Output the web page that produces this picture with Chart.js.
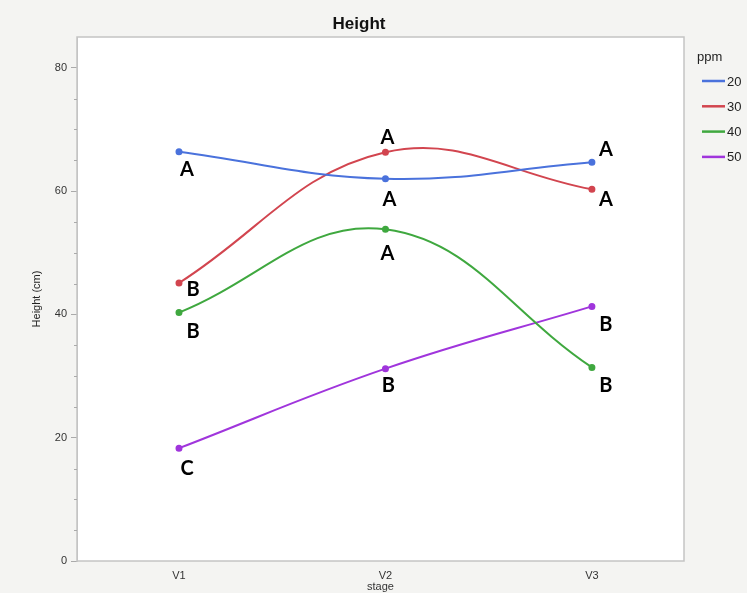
<!DOCTYPE html>
<html>
<head>
<meta charset="utf-8">
<script src="https://cdn.jsdelivr.net/npm/chart.js@4"></script>
<style>
  html, body { margin: 0; padding: 0; background: #f4f4f2; }
  #wrap { width: 747px; height: 593px; }
</style>
</head>
<body>
<div id="wrap"><canvas id="heightChart" width="747" height="593"></canvas></div>
<script>
// Data
const stages = ['V1', 'V2', 'V3'];
const ppmLevels = ['20', '30', '40', '50'];
const height20 = [66.4, 62.0, 64.7];
const height30 = [45.1, 66.3, 60.3];
const height40 = [40.3, 53.8, 31.4];
const height50 = [18.3, 31.2, 41.3];
const letters20 = ['A', 'A', 'A'];
const letters30 = ['B', 'A', 'A'];
const letters40 = ['B', 'A', 'B'];
const letters50 = ['C', 'B', 'B'];
const yTicks = [0, 20, 40, 60, 80];

const colors = ['#4a72dc', '#d2454f', '#3fa83f', '#a035dc'];
// text offsets (px) of the letter from its point, per series/stage
const letterOffsets = [
    [[8, 18], [4, 21], [14, -13]],
    [[14, 7], [2, -15], [14, 10]],
    [[14, 19], [2, 24], [14, 18]],
    [[8, 20], [3, 17], [14, 18]]
];

const seriesValues = [height20, height30, height40, height50];
const seriesLetters = [letters20, letters30, letters40, letters50];

const datasets = ppmLevels.map((lvl, i) => ({
    label: lvl,
    data: seriesValues[i].map((v, j) => ({ x: j, y: v })),
    borderColor: colors[i],
    backgroundColor: colors[i],
    borderWidth: 2,
    pointRadius: 2.5,
    pointHoverRadius: 2.5,
    tension: 0.4,
    letters: seriesLetters[i]
}));

// background, plot frame, title, legend and letters
const decorPlugin = {
    id: 'decor',
    beforeDraw(chart) {
        const { ctx, chartArea: a } = chart;
        ctx.save();
        ctx.fillStyle = '#f4f4f2';
        ctx.fillRect(0, 0, chart.width, chart.height);
        ctx.fillStyle = '#ffffff';
        ctx.fillRect(a.left, a.top, a.right - a.left, a.bottom - a.top);
        ctx.restore();
    },
    afterDraw(chart) {
        const { ctx, chartArea: a } = chart;
        ctx.save();
        ctx.strokeStyle = '#c4c4c4';
        ctx.lineWidth = 1.5;
        ctx.strokeRect(a.left, a.top, a.right - a.left, a.bottom - a.top);

        // minor y ticks (shorter than the labelled ones)
        const yScale = chart.scales.y;
        ctx.strokeStyle = '#aaa';
        ctx.lineWidth = 1;
        yScale.ticks.forEach(t => {
            if (yTicks.includes(t.value) || t.value === yScale.max) return;
            const py = Math.round(yScale.getPixelForValue(t.value)) + 0.5;
            ctx.beginPath();
            ctx.moveTo(a.left - 3, py);
            ctx.lineTo(a.left, py);
            ctx.stroke();
        });

        // title
        ctx.fillStyle = '#111';
        ctx.font = 'bold 17px "Liberation Sans", Arial, sans-serif';
        ctx.textAlign = 'center';
        ctx.textBaseline = 'middle';
        ctx.fillText('Height', 359, 24);

        // legend
        ctx.textAlign = 'left';
        ctx.font = '13px "Liberation Sans", Arial, sans-serif';
        ctx.fillStyle = '#222';
        ctx.fillText('ppm', 697, 57);
        chart.data.datasets.forEach((ds, i) => {
            const y = 81 + i * 25.3;
            ctx.strokeStyle = ds.borderColor;
            ctx.lineWidth = 2.5;
            ctx.beginPath();
            ctx.moveTo(702, y);
            ctx.lineTo(725, y);
            ctx.stroke();
            ctx.fillStyle = '#222';
            ctx.fillText(ds.label, 727, y + 1);
        });

        // significance letters
        ctx.font = 'bold 20px Lato, "Liberation Sans", sans-serif';
        ctx.fillStyle = '#000';
        ctx.textAlign = 'center';
        chart.data.datasets.forEach((ds, i) => {
            const meta = chart.getDatasetMeta(i);
            meta.data.forEach((pt, j) => {
                const off = letterOffsets[i][j];
                ctx.fillText(ds.letters[j], pt.x + off[0], pt.y + off[1]);
            });
        });
        ctx.restore();
    }
};

const chartCanvas = document.getElementById('heightChart');
new Chart(chartCanvas.getContext('2d'), {
    type: 'line',
    data: { datasets },
    options: {
        responsive: false,
        animation: false,
        events: [],
        layout: { padding: { top: 37, right: 63, left: 0, bottom: 0 } },
        plugins: {
            legend: { display: false },
            title: { display: false },
            tooltip: { enabled: false }
        },
        scales: {
            x: {
                type: 'linear',
                min: -0.494,
                max: 2.446,
                afterFit: s => { s.height = 32; },
                afterBuildTicks: s => { s.ticks = stages.map((c, i) => ({ value: i })); },
                grid: { display: false },
                border: { display: false },
                ticks: {
                    padding: 0,
                    color: '#333',
                    font: { family: '"Liberation Sans", Arial, sans-serif', size: 11 },
                    callback: v => stages[v]
                },
                title: {
                    display: true,
                    text: 'stage',
                    color: '#333',
                    padding: { top: 0, bottom: -1 },
                    font: { family: '"Liberation Sans", Arial, sans-serif', size: 11 }
                }
            },
            y: {
                min: 0,
                max: 85,
                afterFit: s => { s.width = 77; },
                grid: {
                    drawOnChartArea: false,
                    tickLength: 6,
                    color: '#aaa',
                    tickColor: c => c.tick && yTicks.includes(c.tick.value) ? '#aaa' : 'rgba(0,0,0,0)'
                },
                border: { color: '#c4c4c4' },
                ticks: {
                    stepSize: 5,
                    padding: 4,
                    color: '#333',
                    font: { family: '"Liberation Sans", Arial, sans-serif', size: 11 },
                    callback: v => yTicks.includes(v) ? String(v) : ''
                },
                title: {
                    display: true,
                    text: 'Height (cm)',
                    color: '#222',
                    padding: { top: 30, bottom: 0 },
                    font: { family: '"Liberation Sans", Arial, sans-serif', size: 11 }
                }
            }
        }
    },
    plugins: [decorPlugin]
});
</script>
</body>
</html>
